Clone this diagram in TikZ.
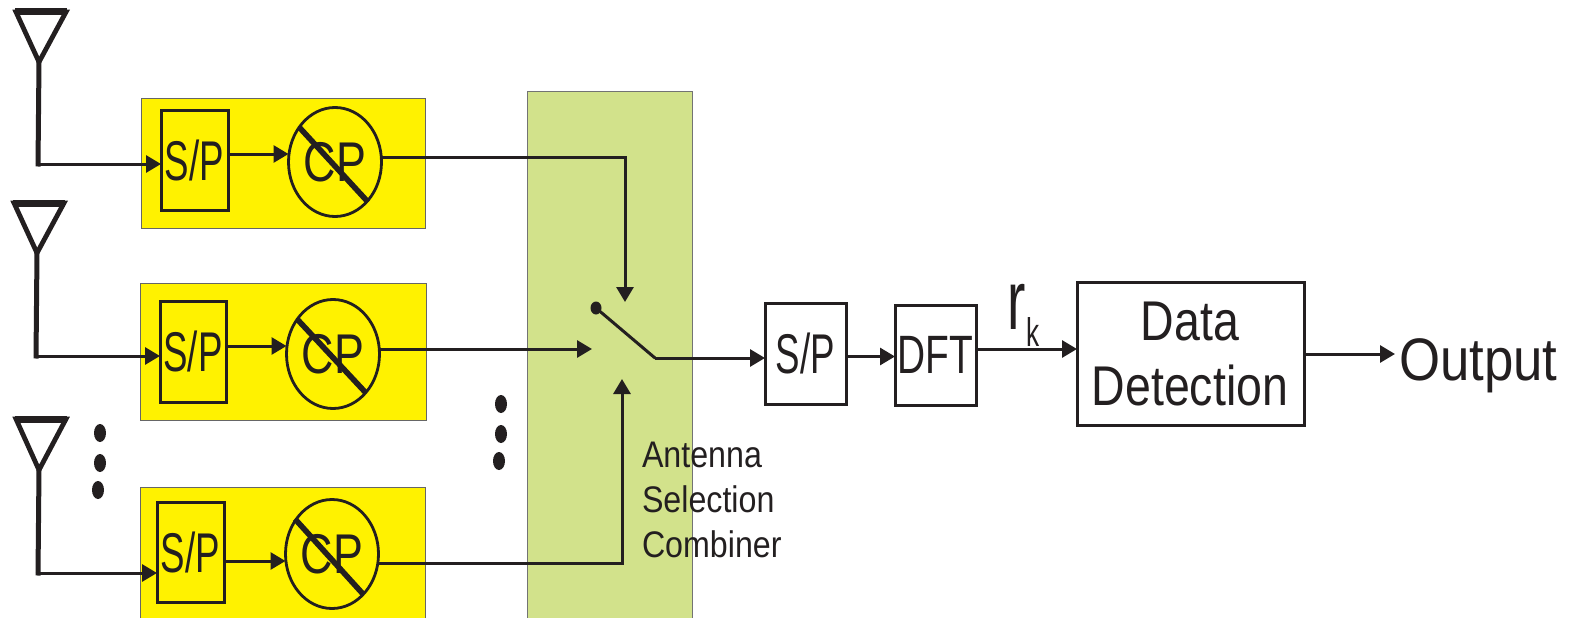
\documentclass[tikz,border=0pt]{standalone}
\usepackage{fontspec}
\setmainfont{Liberation Sans}
\newfontfamily\narrowf[FakeStretch=0.655]{Liberation Sans}
\newfontfamily\cpf[FakeStretch=0.8]{Liberation Sans}
\newfontfamily\dftf[FakeStretch=0.72]{Liberation Sans}
\newfontfamily\midf[FakeStretch=0.83]{Liberation Sans}
\newfontfamily\labf[FakeStretch=0.87]{Liberation Sans}
\newfontfamily\outf[FakeStretch=0.88]{Liberation Sans}
\usetikzlibrary{arrows.meta,shapes.geometric}
\definecolor{ink}{HTML}{231F20}
\definecolor{yellowbox}{HTML}{FFF200}
\definecolor{greenbox}{HTML}{D2E28B}
\tikzset{
  x=1pt,y=-1pt,
  every node/.style={text=ink,inner sep=0pt,outer sep=0pt},
  flow/.style={draw=ink,line width=3pt,-{Triangle[length=15pt,width=17pt]}},
  wire/.style={draw=ink,line width=3pt},
  panel/.style={draw=black!60,line width=1pt,fill=yellowbox,anchor=north west},
  spbox/.style={draw=ink,line width=3pt,anchor=north west,font=\fontsize{56}{56}\selectfont\narrowf},
  cpcircle/.style={ellipse,draw=ink,line width=2.8pt,minimum width=93pt,minimum height=109pt,font=\fontsize{56}{56}\selectfont\cpf},
  slashbar/.style={draw=ink,line width=5.6pt},
  aerial/.style={draw=ink,line width=4.8pt,line join=miter},
  aerialtop/.style={draw=ink,line width=7pt},
  mast/.style={draw=ink,line width=5pt},
  dotmark/.style={ellipse,fill=ink,minimum width=12pt,minimum height=18pt},
  smalltext/.style={anchor=base west,font=\fontsize{37}{37}\selectfont\labf},
}
\begin{document}
\begin{tikzpicture}
\useasboundingbox (0,0) rectangle (1577,618);
% green band
\node[draw=black!55,line width=1pt,fill=greenbox,anchor=north west,minimum width=165pt,minimum height=527pt] (band) at (527.5,91) {};
% yellow panels
\node[panel,minimum width=284pt,minimum height=130pt] (p1) at (141,98) {};
\node[panel,minimum width=286pt,minimum height=137pt] (p2) at (140,283) {};
\node[panel,minimum width=285pt,minimum height=131pt] (p3) at (140,487) {};
% S/P
\node[spbox,minimum width=67pt,minimum height=100pt] (sa) at (161,110) {S/P};
\node[spbox,minimum width=66pt,minimum height=101pt] (sb) at (160,301) {S/P};
\node[spbox,minimum width=67pt,minimum height=100pt] (sc) at (157,502) {S/P};
% CP
\node[cpcircle] (ca) at (335,162) {CP};
\node[cpcircle] (cb) at (333,354) {CP};
\node[cpcircle] (cc) at (332,554) {CP};
\coordinate (a1) at (299,127); \coordinate (a2) at (368,202);
\coordinate (b1) at (297,319); \coordinate (b2) at (366,393);
\coordinate (c1) at (295,519); \coordinate (c2) at (363,594);
\draw[slashbar] (a1) -- (a2);
\draw[slashbar] (b1) -- (b2);
\draw[slashbar] (c1) -- (c2);
% antennas
\coordinate (ta) at (39,62); \coordinate (tb) at (37,253); \coordinate (tc) at (39,470);
\draw[aerial] (16,12) -- (66,12) -- (ta) -- cycle;
\draw[aerial] (14,203) -- (64,203) -- (tb) -- cycle;
\draw[aerial] (16,419) -- (66,419) -- (tc) -- cycle;
\draw[aerialtop] (15,12) -- (67,12);
\draw[aerialtop] (13,203) -- (65,203);
\draw[aerialtop] (15,419) -- (67,419);
\coordinate (ia) at (38,164); \coordinate (ib) at (36,356); \coordinate (ic) at (38,573);
\draw[mast] (ta) -- ([yshift=-2.5pt]ia);
\draw[mast] (tb) -- ([yshift=-2.5pt]ib);
\draw[mast] (tc) -- ([yshift=-2.5pt]ic);
\draw[flow] ([xshift=-2.5pt]ia) -- (ia -| sa.west);
\draw[flow] ([xshift=-2.5pt]ib) -- (ib -| sb.west);
\draw[flow] ([xshift=-2.5pt]ic) -- (ic -| sc.west);
\coordinate (ma) at (228,154); \coordinate (mb) at (226,346); \coordinate (mc) at (224,561);
\draw[flow] (ma -| sa.east) -- (ma -| ca.west);
\draw[flow] (mb -| sb.east) -- (mb -| cb.west);
\draw[flow] (mc -| sc.east) -- (mc -| cc.west);
% switch
\node[ellipse,fill=ink,minimum width=11pt,minimum height=13pt] (pole) at (596,308) {};
\coordinate (hinge) at (655,358);
\coordinate (ca2) at (625,157);
\coordinate (cat) at (625,302);
\coordinate (cbt) at (592,349);
\coordinate (cc2) at (622,563);
\coordinate (cct) at (622,379);
\draw[wire] (ca.east |- ca2) -- ([xshift=1.5pt]ca2);
\draw[flow] (ca2) -- (cat);
\draw[flow] (cb.east |- cbt) -- (cbt);
\draw[wire] (cc.east |- cc2) -- ([xshift=1.5pt]cc2);
\draw[flow] (cc2) -- (cct);
\draw[wire,line cap=round] (pole) -- (hinge);
% main blocks
\node[spbox,minimum width=81pt,minimum height=101pt] (s2) at (765,303) {S/P};
\node[draw=ink,line width=3pt,anchor=north west,minimum width=81pt,minimum height=100pt,font=\fontsize{54}{54}\selectfont\dftf] (dft) at (895,305) {DFT};
\node[draw=ink,line width=3pt,anchor=north west,minimum width=227pt,minimum height=143pt] (dd) at (1077,282) {};
\node[font=\fontsize{56}{56}\selectfont\midf,anchor=base] (dda) at (1190,340) {Data};
\node[font=\fontsize{56}{56}\selectfont\midf,anchor=base] (ddb) at (1190,405) {Detection};
\draw[flow] (hinge) -- (s2.west |- hinge);
\draw[flow] ([yshift=-3pt]s2.east) -- ([yshift=-3pt]s2.east -| dft.west);
\draw[flow] ([yshift=6pt]dft.east) -- ([yshift=6pt]dft.east -| dd.west);
\coordinate (outtip) at (1395,354);
\draw[flow] (dd.east |- outtip) -- (outtip);
\node[font=\fontsize{60}{60}\selectfont\outf,anchor=base west] (out) at (1399,380) {Output};
\node[font=\fontsize{84}{84}\selectfont\narrowf,anchor=base west] (r) at (1007,329) {r};
\node[font=\fontsize{40}{40}\selectfont\narrowf,anchor=base west] (k) at (1026,346) {k};
% dots
\node[dotmark] (d1) at (100,433) {};
\node[dotmark] (d2) at (100,463) {};
\node[dotmark] (d3) at (98,490) {};
\node[dotmark] (d4) at (501,404) {};
\node[dotmark] (d5) at (501,434) {};
\node[dotmark] (d6) at (499,461) {};
% label
\node[smalltext] (l1) at (642,467) {Antenna};
\node[smalltext] (l2) at (642,512) {Selection};
\node[smalltext] (l3) at (642,557) {Combiner};
\end{tikzpicture}
\end{document}
